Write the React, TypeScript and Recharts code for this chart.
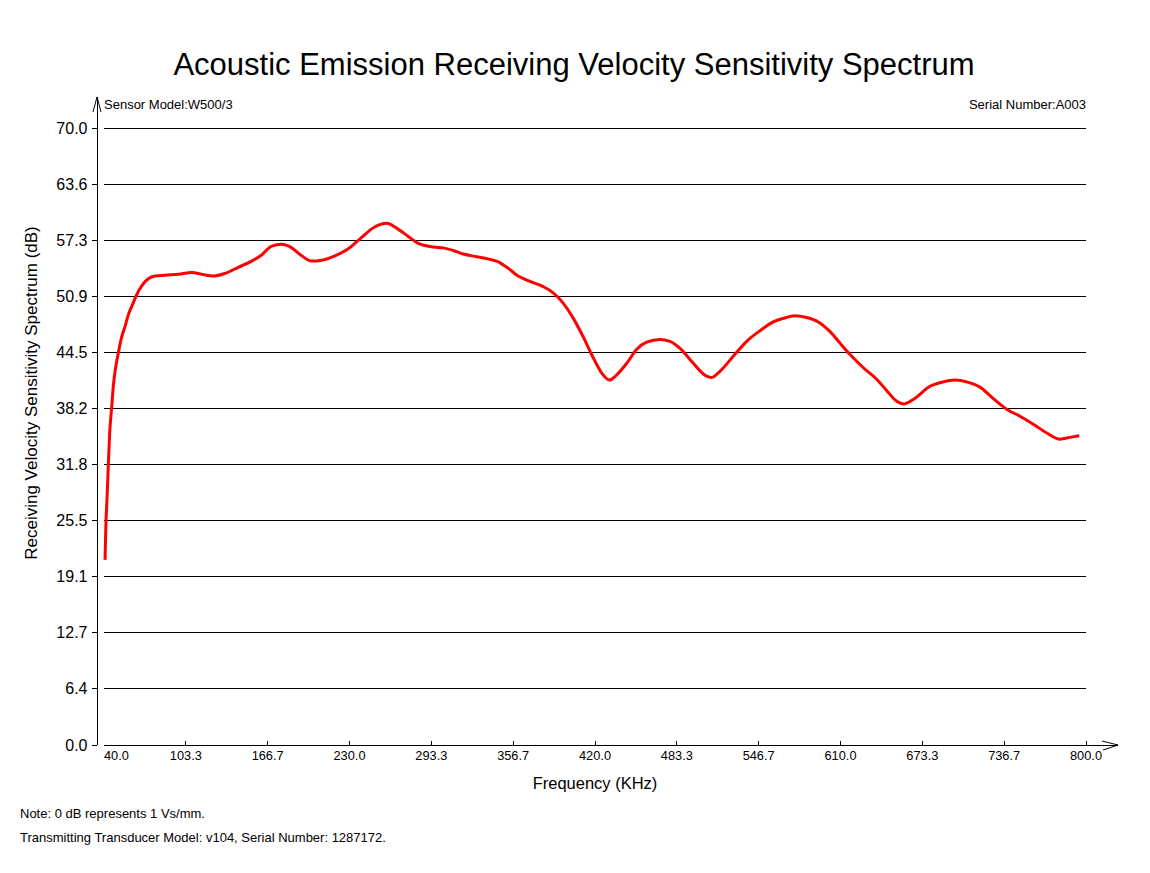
import React from "react";
import { LineChart, Line, XAxis, YAxis, CartesianGrid } from "recharts";

// frequency (kHz) and receiving sensitivity (dB)
const freqKHz = [
  40.8, 41.5, 42.3, 43.3, 44.4, 46.0, 47.2, 49.1, 51.1, 53.7,
  56.3, 58.8, 61.9, 65.3, 69.2, 74.3, 79.5, 87.2, 97.5, 107.9,
  115.6, 124.6, 133.6, 143.9, 154.3, 162.0, 169.8, 177.5, 185.3, 193.0,
  200.7, 208.5, 218.8, 229.1, 239.4, 249.7, 258.8, 267.8, 275.5, 283.3,
  294.9, 302.6, 310.3, 318.1, 328.4, 338.7, 345.2, 351.7, 360.6, 369.7,
  380.0, 387.7, 395.5, 403.2, 410.9, 417.4, 425.2, 431.1, 436.8, 444.5,
  452.3, 460.0, 470.3, 478.0, 485.8, 496.1, 503.8, 510.3, 516.7, 527.0,
  537.4, 547.7, 558.0, 565.7, 574.8, 583.8, 592.8, 601.9, 609.6, 617.4,
  627.7, 638.0, 645.8, 653.5, 659.2, 666.3, 679.3, 689.6, 698.6, 707.7,
  718.0, 728.3, 738.6, 748.9, 759.2, 769.6, 779.9, 787.6, 794.8,
];

const sensitivityDb = [
  21.0, 25.2, 27.8, 31.6, 35.4, 38.4, 40.7, 42.9, 44.5, 46.3,
  47.5, 48.8, 49.9, 51.1, 52.1, 52.9, 53.2, 53.3, 53.4, 53.6,
  53.4, 53.2, 53.5, 54.2, 54.9, 55.6, 56.6, 56.8, 56.4, 55.5,
  54.9, 55.0, 55.5, 56.3, 57.6, 58.8, 59.2, 58.5, 57.7, 56.9,
  56.5, 56.4, 56.1, 55.7, 55.4, 55.1, 54.8, 54.2, 53.2, 52.6,
  52.0, 51.3, 50.1, 48.4, 46.3, 44.3, 42.2, 41.4, 42.0, 43.3,
  44.9, 45.7, 46.0, 45.8, 45.0, 43.3, 42.1, 41.7, 42.4, 44.1,
  45.8, 47.0, 48.0, 48.4, 48.7, 48.5, 48.0, 46.9, 45.6, 44.3,
  42.8, 41.5, 40.2, 39.0, 38.7, 39.2, 40.7, 41.2, 41.4, 41.2,
  40.6, 39.3, 38.1, 37.3, 36.4, 35.4, 34.7, 34.9, 35.1,
];

const xTicks = [40, 103.33, 166.67, 230, 293.33, 356.67, 420, 483.33, 546.67, 610, 673.33, 736.67, 800];
const yTicks = [0, 6.3636, 12.7273, 19.0909, 25.4545, 31.8182, 38.1818, 44.5455, 50.9091, 57.2727, 63.6364, 70];

const title = "Acoustic Emission Receiving Velocity Sensitivity Spectrum";
const sensorModel = "Sensor Model:W500/3";
const serialNumber = "Serial Number:A003";
const notes = [
  "Note: 0 dB represents 1 Vs/mm.",
  "Transmitting Transducer Model: v104, Serial Number: 1287172.",
];

const W = 1150;
const H = 873;
const LEFT = 104;
const RIGHT = 1086;
const TOP = 128;
const BOTTOM = 745;
const FONT = '"Liberation Sans", Arial, sans-serif';

const data = freqKHz.map((f, i) => ({ f, db: sensitivityDb[i] }));

function XTick(props: any) {
  const { x, y, payload, index } = props;
  const first = index === 0;
  return (
    <g>
      {!first && <line x1={x} x2={x} y1={y - 4} y2={y} stroke="#000" shapeRendering="crispEdges" />}
      <text
        x={x}
        y={y + 15}
        textAnchor={first ? "start" : "middle"}
        fontSize={12.8}
        fontFamily={FONT}
        fill="#000"
      >
        {Number(payload.value).toFixed(1)}
      </text>
    </g>
  );
}

function YTick(props: any) {
  const { x, y, payload } = props;
  return (
    <g>
      <line x1={x - 12} x2={x - 7} y1={y} y2={y} stroke="#000" shapeRendering="crispEdges" />
      <text x={x - 16.5} y={y + 5.5} textAnchor="end" fontSize={16} fontFamily={FONT} fill="#000">
        {Number(payload.value).toFixed(1)}
      </text>
    </g>
  );
}

export default function App() {
  return (
    <div style={{ position: "absolute", left: 0, top: 0, width: W, height: H, background: "#fff" }}>
      <LineChart
        width={W}
        height={H}
        data={data}
        margin={{ top: TOP, right: W - RIGHT, bottom: 0, left: 0 }}
      >
        <CartesianGrid
          vertical={false}
          stroke="#000"
          shapeRendering="crispEdges"
          x={LEFT}
          width={RIGHT - LEFT}
        />
        <XAxis
          dataKey="f"
          type="number"
          domain={[40, 800]}
          ticks={xTicks}
          interval={0}
          height={H - BOTTOM}
          tickSize={0}
          tickMargin={0}
          tickLine={false}
          axisLine={{ stroke: "#000", shapeRendering: "crispEdges" }}
          tick={<XTick />}
        />
        <YAxis
          type="number"
          domain={[0, 70]}
          ticks={yTicks}
          interval={0}
          width={LEFT}
          tickSize={0}
          tickMargin={0}
          tickLine={false}
          axisLine={false}
          tick={<YTick />}
        />
        <Line
          type="monotone"
          dataKey="db"
          stroke="#ff0000"
          strokeWidth={3}
          dot={false}
          isAnimationActive={false}
        />
      </LineChart>
      <svg
        width={W}
        height={H}
        style={{ position: "absolute", left: 0, top: 0, pointerEvents: "none" }}
        fontFamily={FONT}
      >
        {/* axis lines with arrow heads */}
        <line x1={LEFT - 7} x2={LEFT - 7} y1={BOTTOM} y2={TOP - 31} stroke="#000" shapeRendering="crispEdges" />
        <polyline points={`${LEFT - 11},${TOP - 16} ${LEFT - 7},${TOP - 31} ${LEFT - 3},${TOP - 16}`} fill="none" stroke="#000" />
        <line x1={RIGHT} x2={RIGHT + 32} y1={BOTTOM} y2={BOTTOM} stroke="#000" shapeRendering="crispEdges" />
        <polyline points={`${RIGHT + 16},${BOTTOM - 4} ${RIGHT + 32},${BOTTOM} ${RIGHT + 17},${BOTTOM + 5}`} fill="none" stroke="#000" />

        <text x={574} y={75} textAnchor="middle" fontSize={31} fill="#000">{title}</text>
        <text x={LEFT} y={108.5} fontSize={13} fill="#000">{sensorModel}</text>
        <text x={RIGHT} y={108.5} textAnchor="end" fontSize={13} fill="#000">{serialNumber}</text>
        <text x={37} y={393} transform="rotate(-90 37 393)" textAnchor="middle" fontSize={17} fill="#000">
          Receiving Velocity Sensitivity Spectrum (dB)
        </text>
        <text x={595} y={789} textAnchor="middle" fontSize={16.5} fill="#000">Frequency (KHz)</text>
        {notes.map((n, i) => (
          <text key={i} x={20} y={818 + i * 24} fontSize={13} fill="#000">{n}</text>
        ))}
      </svg>
    </div>
  );
}
